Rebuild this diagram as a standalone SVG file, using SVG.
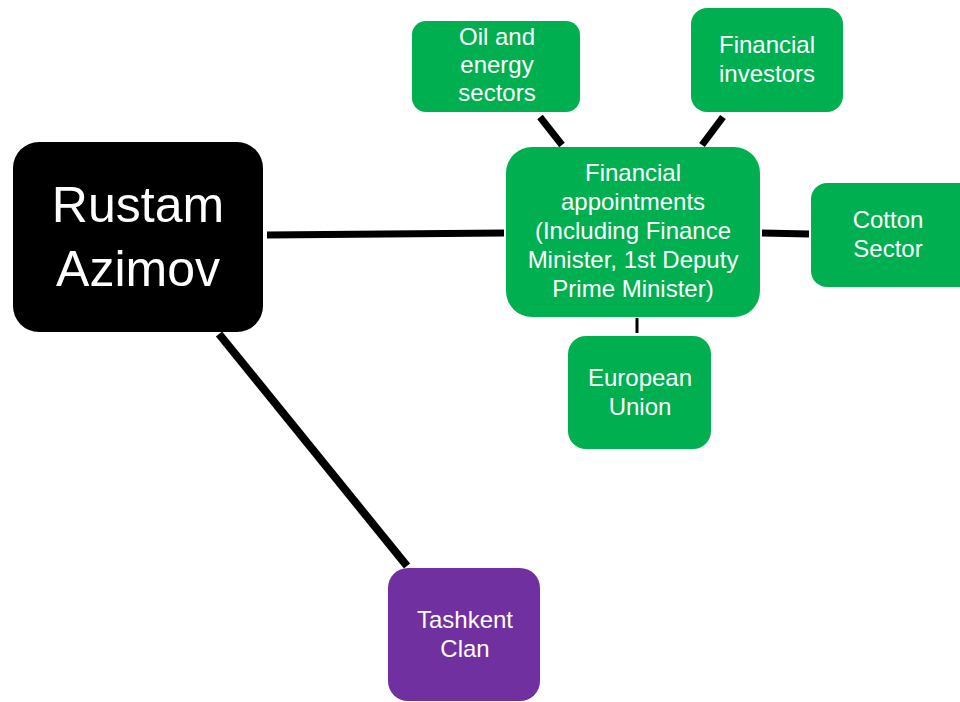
<svg xmlns="http://www.w3.org/2000/svg" width="960" height="702" viewBox="0 0 960 702">
<style>
.green{fill:#00B050}
.t{font-family:"Liberation Sans",Arial,sans-serif;font-size:24px;fill:#fff;text-anchor:middle}
.big{font-size:50px}
.c{stroke:#000;stroke-width:7;fill:none}
</style>
<rect width="960" height="702" fill="#fff"/>
<g id="connectors">
<line class="c" x1="267" y1="235" x2="504" y2="233"/>
<line class="c" x1="762" y1="233" x2="809" y2="234"/>
<line class="c" x1="540" y1="117" x2="562" y2="145"/>
<line class="c" x1="723" y1="117" x2="702" y2="145"/>
<line class="c" style="stroke-width:3" x1="637" y1="318" x2="637" y2="333"/>
<line class="c" style="stroke-width:8" x1="219" y1="334" x2="407" y2="566"/>
</g>
<g id="rustam">
<rect x="13" y="142" width="250" height="190" rx="26" fill="#000"/>
<text class="t big" x="138" y="222">Rustam</text>
<text class="t big" x="138" y="286">Azimov</text>
</g>
<g id="financial-appointments">
<rect class="green" x="506" y="147" width="254" height="170" rx="26"/>
<text class="t" x="633" y="181">Financial</text>
<text class="t" x="633" y="210">appointments</text>
<text class="t" x="633" y="239">(Including Finance</text>
<text class="t" x="633" y="268">Minister, 1st Deputy</text>
<text class="t" x="633" y="297">Prime Minister)</text>
</g>
<g id="oil">
<rect class="green" x="412" y="21" width="168" height="91" rx="14"/>
<text class="t" x="497" y="45">Oil and</text>
<text class="t" x="497" y="73">energy</text>
<text class="t" x="497" y="101">sectors</text>
</g>
<g id="investors">
<rect class="green" x="691" y="8" width="152" height="104" rx="16"/>
<text class="t" x="767" y="53">Financial</text>
<text class="t" x="767" y="82">investors</text>
</g>
<g id="cotton">
<rect class="green" x="811" y="183" width="165" height="104" rx="16"/>
<text class="t" x="888" y="228">Cotton</text>
<text class="t" x="888" y="257">Sector</text>
</g>
<g id="eu">
<rect class="green" x="568" y="336" width="143" height="113" rx="18"/>
<text class="t" x="640" y="386">European</text>
<text class="t" x="640" y="415">Union</text>
</g>
<g id="tashkent">
<rect x="388" y="568" width="152" height="133" rx="20" fill="#7030A0"/>
<text class="t" x="465" y="628">Tashkent</text>
<text class="t" x="465" y="657">Clan</text>
</g>
</svg>
